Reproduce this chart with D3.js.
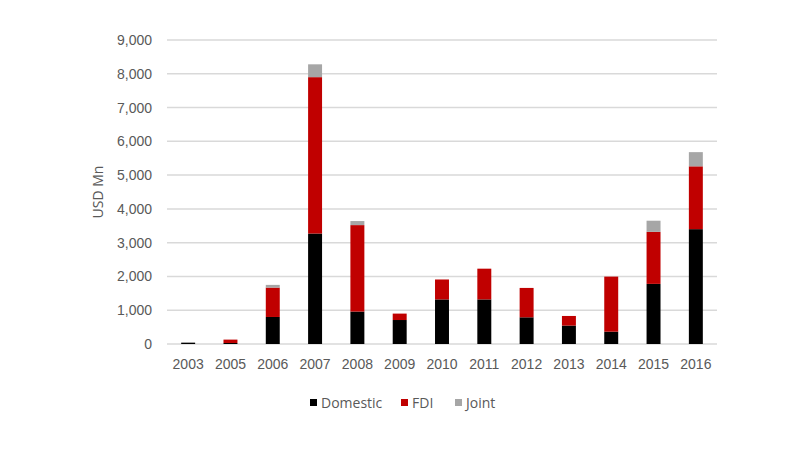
<!DOCTYPE html>
<html>
<head>
<meta charset="utf-8">
<script src="https://cdn.jsdelivr.net/npm/d3@7"></script>
<style>
  html, body { margin: 0; padding: 0; background: #fff; }
  svg { display: block; font-family: "Open Sans", "Noto Sans", sans-serif; }
</style>
</head>
<body>
<svg id="chart" width="800" height="450"></svg>
<script>
const years = ["2003","2005","2006","2007","2008","2009","2010","2011","2012","2013","2014","2015","2016"];
const domestic = [40, 30, 800, 3270, 960, 710, 1320, 1320, 790, 545, 365, 1780, 3400];
const fdi      = [0, 100, 870, 4630, 2560, 190, 590, 910, 870, 285, 1630, 1540, 1860];
const joint    = [0, 0, 80, 380, 120, 0, 0, 0, 0, 0, 0, 330, 420];
const seriesNames = ["Domestic", "FDI", "Joint"];
const seriesColors = ["#000000", "#c00000", "#a6a6a6"];
const yTicks = [0, 1000, 2000, 3000, 4000, 5000, 6000, 7000, 8000, 9000];
const yTitle = "USD Mn";

const svg = d3.select("#chart");
const margin = {left: 167, right: 83, top: 40, bottom: 106};
const W = 800, H = 450;

const rows = years.map((y, i) => ({year: y, Domestic: domestic[i], FDI: fdi[i], Joint: joint[i]}));
const stack = d3.stack().keys(seriesNames)(rows);

const x = d3.scaleBand().domain(years).range([margin.left, W - margin.right]).paddingInner(0.67).paddingOuter(0.335);
const y = d3.scaleLinear().domain([0, 9000]).range([H - margin.bottom, margin.top]);

// gridlines
svg.append("g").selectAll("line").data(yTicks).join("line")
  .attr("x1", margin.left).attr("x2", W - margin.right)
  .attr("y1", d => y(d)).attr("y2", d => y(d))
  .attr("stroke", "#d9d9d9").attr("stroke-width", 1.5);

// y axis
const yAxis = svg.append("g").attr("transform", `translate(${margin.left - 15},0)`)
  .call(d3.axisLeft(y).tickValues(yTicks).tickFormat(d3.format(",")).tickSize(0).tickPadding(0));
yAxis.select(".domain").remove();
yAxis.selectAll("text").attr("fill", "#595959").style("font-size", "14px");

// bars
svg.append("g").selectAll("g").data(stack).join("g")
  .attr("fill", (d, i) => seriesColors[i])
  .selectAll("rect").data(d => d).join("rect")
  .attr("x", d => x(d.data.year))
  .attr("width", x.bandwidth())
  .attr("y", d => y(d[1]))
  .attr("height", d => Math.max(0, y(d[0]) - y(d[1])));

// x axis
const xAxis = svg.append("g").attr("transform", `translate(0,${H - margin.bottom})`)
  .call(d3.axisBottom(x).tickSize(0).tickPadding(15));
xAxis.select(".domain").remove();
xAxis.selectAll("text").attr("fill", "#595959").style("font-size", "14px");

// y title
svg.append("text")
  .attr("transform", `translate(103,${(margin.top + H - margin.bottom) / 2}) rotate(-90)`)
  .attr("text-anchor", "middle")
  .attr("fill", "#595959").style("font-size", "14px")
  .text(yTitle);

// legend
const legendX = [310, 401, 455];
const lg = svg.append("g");
seriesNames.forEach((n, i) => {
  lg.append("rect").attr("x", legendX[i]).attr("y", 399).attr("width", 7).attr("height", 7).attr("fill", seriesColors[i]);
  lg.append("text").attr("x", legendX[i] + 11).attr("y", 408)
    .attr("fill", "#595959").style("font-size", "14px").text(n);
});
</script>
</body>
</html>
